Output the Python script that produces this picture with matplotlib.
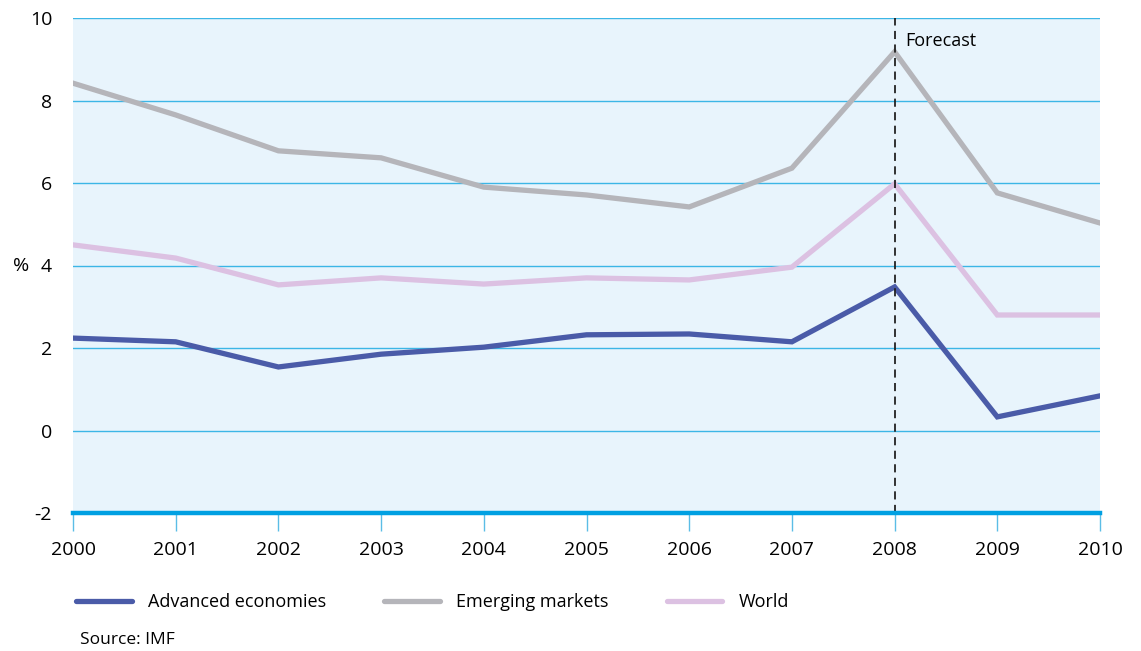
import matplotlib
matplotlib.use("Agg")
import matplotlib.pyplot as plt
from matplotlib.lines import Line2D

plt.rcParams['font.family'] = ['Open Sans', 'DejaVu Sans']

years = [2000, 2001, 2002, 2003, 2004, 2005, 2006, 2007, 2008, 2009, 2010]
advanced = [2.24, 2.15, 1.54, 1.85, 2.02, 2.32, 2.34, 2.15, 3.48, 0.33, 0.84]
emerging = [8.42, 7.65, 6.78, 6.61, 5.90, 5.71, 5.42, 6.36, 9.18, 5.76, 5.03]
world = [4.50, 4.18, 3.53, 3.70, 3.55, 3.70, 3.65, 3.96, 5.98, 2.80, 2.80]
yticks = [-2, 0, 2, 4, 6, 8, 10]
series_names = ["Advanced economies", "Emerging markets", "World"]
forecast_year = 2008

c_adv = "#4a5ba8"
c_emg = "#b5b5ba"
c_wld = "#dcc1e2"
grid_c = "#3cb6e6"
bg_c = "#e8f4fc"

fig = plt.figure(figsize=(11.41, 6.51), dpi=100)
ax = fig.add_axes([73/1141, 1-513/651, (1100-73)/1141, (513-18)/651])
ax.set_facecolor(bg_c)
ax.set_xlim(2000, 2010)
ax.set_ylim(-2, 10)

for y in yticks[1:]:
    ax.axhline(y, color=grid_c, lw=1.0, zorder=1)

lw = 3.8
ax.plot(years, emerging, color=c_emg, lw=lw, solid_joinstyle='miter', zorder=3)
ax.plot(years, world, color=c_wld, lw=lw, solid_joinstyle='miter', zorder=3)
ax.plot(years, advanced, color=c_adv, lw=lw, solid_joinstyle='miter', zorder=4)

ax.axvline(forecast_year, color="#222222", lw=1.3, ls=(0, (4.5, 3)), zorder=5)
ax.text(forecast_year + 0.107, 9.45, "Forecast", fontsize=13, va='center', ha='left')

for s in ['top', 'right', 'left']:
    ax.spines[s].set_visible(False)
ax.spines['bottom'].set_color("#00a0e2")
ax.spines['bottom'].set_linewidth(3.2)
ax.spines['bottom'].set_zorder(6)

ax.set_yticks(yticks)
ax.set_yticklabels([str(v) for v in yticks], fontsize=14)
ax.tick_params(axis='y', length=0, pad=15)
ax.set_xticks(years)
ax.set_xticklabels([str(v) for v in years], fontsize=14)
ax.tick_params(axis='x', length=13, width=1.0, color="#5bbde6", pad=7, direction='out')

fig.text(13/1141, 1-266/651, "%", fontsize=14, ha='left', va='center')

# legend
handles = [Line2D([0], [0], color=c, lw=lw, solid_capstyle='round') for c in (c_adv, c_emg, c_wld)]
leg = fig.legend(handles, series_names, loc='center left', bbox_to_anchor=(76/1141, 1-602/651),
                 ncol=3, frameon=False, fontsize=13, handlelength=3.1, handletextpad=0.9,
                 columnspacing=3.2, borderaxespad=0, borderpad=0)

fig.text(80/1141, 1-640/651, "Source: IMF", fontsize=12.5, ha='left', va='center')

fig.savefig("out.png", dpi=100)
